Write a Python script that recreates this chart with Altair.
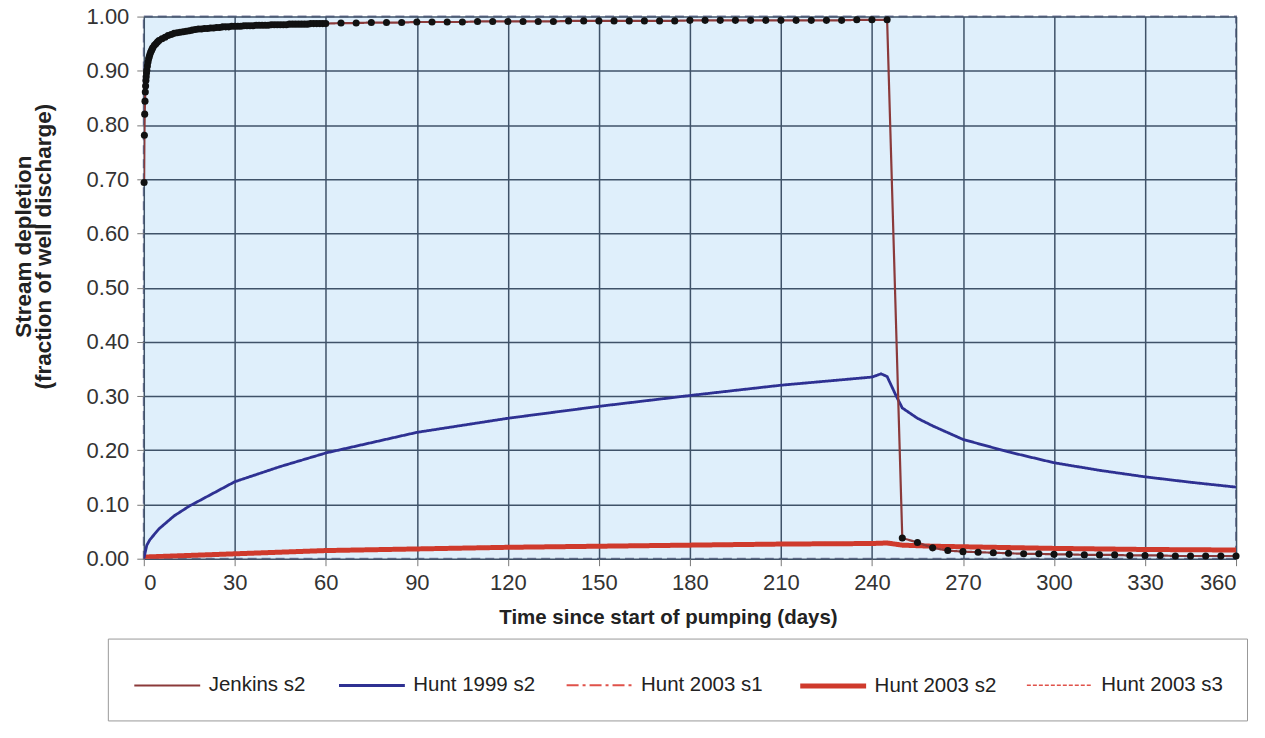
import altair as alt
import pandas as pd

series_names = ["Jenkins s2", "Hunt 1999 s2", "Hunt 2003 s1", "Hunt 2003 s2", "Hunt 2003 s3"]
series_colors = ["#8B3A3A", "#2E3192", "#E0524A", "#CF3A2C", "#E0524A"]
series_dash = [[1, 0], [1, 0], [12, 4, 3, 4], [1, 0], [4, 2]]
series_width = [2.2, 2.8, 2, 5, 1.5]

jenkins_t = [0.1, 0.2, 0.3, 0.4, 0.5, 0.6, 0.7, 0.8, 0.9,
             1, 1.2, 1.4, 1.6, 1.8, 2, 2.25, 2.5, 2.75, 3, 3.5, 4, 4.5,
             5, 6, 7, 8, 9, 10,
             11, 12, 13, 14, 15, 16, 17, 18, 19, 20,
             21, 22, 23, 24, 25, 26, 27, 28, 29, 30,
             31, 32, 33, 34, 35, 36, 37, 38, 39, 40,
             41, 42, 43, 44, 45, 46, 47, 48, 49, 50,
             51, 52, 53, 54, 55, 56, 57, 58, 59, 60,
             65, 70, 75, 80, 85, 90, 95, 100, 105, 110,
             115, 120, 125, 130, 135, 140, 145, 150, 155, 160,
             165, 170, 175, 180, 185, 190, 195, 200, 205, 210,
             215, 220, 225, 230, 235, 240, 245,
             250, 255, 260, 265, 270, 275, 280, 285, 290, 295,
             300, 305, 310, 315, 320, 325, 330, 335, 340, 345,
             350, 355, 360]
jenkins_v = [0.694, 0.781, 0.820, 0.844, 0.861, 0.872, 0.882, 0.889, 0.896,
             0.901, 0.909, 0.916, 0.922, 0.926, 0.930, 0.934, 0.937, 0.940, 0.943, 0.947, 0.950, 0.953,
             0.956, 0.959, 0.962, 0.965, 0.967, 0.969,
             0.970, 0.971, 0.972, 0.973, 0.974, 0.975, 0.976, 0.977, 0.977, 0.978,
             0.978, 0.979, 0.979, 0.980, 0.980, 0.981, 0.981, 0.981, 0.982, 0.982,
             0.982, 0.982, 0.983, 0.983, 0.983, 0.983, 0.984, 0.984, 0.984, 0.984,
             0.984, 0.985, 0.985, 0.985, 0.985, 0.985, 0.985, 0.986, 0.986, 0.986,
             0.986, 0.986, 0.986, 0.986, 0.987, 0.987, 0.987, 0.987, 0.987, 0.987,
             0.988, 0.988, 0.989, 0.989, 0.989, 0.990, 0.990, 0.990, 0.990, 0.991,
             0.991, 0.991, 0.991, 0.991, 0.991, 0.992, 0.992, 0.992, 0.992, 0.992,
             0.992, 0.992, 0.992, 0.993, 0.993, 0.993, 0.993, 0.993, 0.993, 0.993,
             0.993, 0.993, 0.993, 0.993, 0.994, 0.994, 0.994,
             0.038, 0.030, 0.020, 0.015, 0.013, 0.012, 0.011, 0.010, 0.009, 0.009,
             0.008, 0.008, 0.007, 0.007, 0.007, 0.006, 0.006, 0.006, 0.005, 0.005,
             0.005, 0.005, 0.005]

hunt99_t = [0, 1, 2, 5, 10, 15, 20, 30, 45, 60, 90, 120, 150, 180, 210, 240,
            243, 245, 248, 250, 255, 260, 270, 285, 300, 315, 330, 345, 360]
hunt99_v = [0.0, 0.025, 0.035, 0.055, 0.079, 0.097, 0.112, 0.142, 0.170, 0.195,
            0.233, 0.259, 0.281, 0.301, 0.320, 0.335,
            0.341, 0.336, 0.300, 0.278, 0.259, 0.245, 0.220, 0.197, 0.177,
            0.163, 0.151, 0.141, 0.132]

hunt03_t = [0, 30, 60, 90, 120, 150, 180, 210, 240, 245, 250, 260, 300, 330, 360]
hunt03_s1_v = [0.002, 0.008, 0.014, 0.017, 0.020, 0.022, 0.024, 0.026, 0.027, 0.028,
               0.024, 0.022, 0.018, 0.016, 0.015]
hunt03_s2_v = [0.003, 0.009, 0.015, 0.018, 0.021, 0.023, 0.025, 0.027, 0.028, 0.029,
               0.025, 0.023, 0.019, 0.017, 0.016]
hunt03_s3_v = [0.003, 0.010, 0.016, 0.019, 0.022, 0.024, 0.026, 0.028, 0.029, 0.030,
               0.026, 0.024, 0.020, 0.018, 0.017]

y_ticks = [0.0, 0.1, 0.2, 0.3, 0.4, 0.5, 0.6, 0.7, 0.8, 0.9, 1.0]
x_ticks = [0, 30, 60, 90, 120, 150, 180, 210, 240, 270, 300, 330, 360]

rows = []
for name, vals in [("Hunt 2003 s1", hunt03_s1_v), ("Hunt 2003 s3", hunt03_s3_v),
                   ("Hunt 2003 s2", hunt03_s2_v)]:
    for t, v in zip(hunt03_t, vals):
        rows.append({"series": name, "t": t, "v": v})
for t, v in zip(hunt99_t, hunt99_v):
    rows.append({"series": "Hunt 1999 s2", "t": t, "v": v})
for t, v in zip(jenkins_t, jenkins_v):
    rows.append({"series": "Jenkins s2", "t": t, "v": v})
df = pd.DataFrame(rows)
df_j = pd.DataFrame({"t": jenkins_t, "v": jenkins_v})

FONT = "Liberation Sans"

x_enc = alt.X("t:Q", scale=alt.Scale(domain=[0, 360], nice=False),
              axis=alt.Axis(values=x_ticks, title="Time since start of pumping (days)",
                            titleX=525, titleFontSize=20.5))
y_enc = alt.Y("v:Q", scale=alt.Scale(domain=[0, 1], nice=False),
              axis=alt.Axis(values=y_ticks, format=".2f", titleFontSize=22.5, titleY=230,
                            title=["Stream depletion", "(fraction of well discharge)"]))

legend = alt.Legend(
    title=None, orient="none", direction="horizontal", columns=5,
    legendX=-36, legendY=623,
    symbolType="M-1,0L2.143,0", symbolSize=1764, symbolFillColor="transparent",
    labelOffset=30, columnPadding=27,
    labelFont=FONT, labelFontSize=20.5, labelColor="#222",
    padding=24, fillColor="white", strokeColor="#999",
)

lines = alt.Chart(df).mark_line(clip=True).encode(
    x=x_enc, y=y_enc,
    color=alt.Color("series:N", scale=alt.Scale(domain=series_names, range=series_colors),
                    legend=legend),
    strokeDash=alt.StrokeDash("series:N", scale=alt.Scale(domain=series_names, range=series_dash),
                              legend=legend),
    strokeWidth=alt.StrokeWidth("series:N",
                                scale=alt.Scale(type="ordinal", domain=series_names, range=series_width),
                                legend=legend),
    detail="series:N",
)

points = alt.Chart(df_j).mark_point(filled=True, size=50, color="#111", opacity=1).encode(
    x="t:Q", y="v:Q"
)

chart = alt.layer(lines, points).properties(
    width=1094, height=543,
    autosize=alt.AutoSizeParams(type="none"),
    padding={"left": 136, "top": 8, "right": 21, "bottom": 170},
).configure_view(
    fill="#DFEFFB", stroke="#7B7FA0", strokeDash=[9, 5], strokeWidth=2,
).configure_axis(
    grid=True, gridColor="#3F5268", gridWidth=1.5, domain=False,
    tickColor="#777", tickSize=7, tickWidth=1,
    labelFont=FONT, labelFontSize=22, labelColor="#333",
    titleFont=FONT, titleFontWeight="bold", titleColor="#222",
).configure_axisX(
    labelPadding=7, titlePadding=14,
).configure_axisY(
    labelPadding=8, titlePadding=31, titleLineHeight=20,
)

chart.save("out.html", embed_options={"renderer": "svg", "actions": False})
